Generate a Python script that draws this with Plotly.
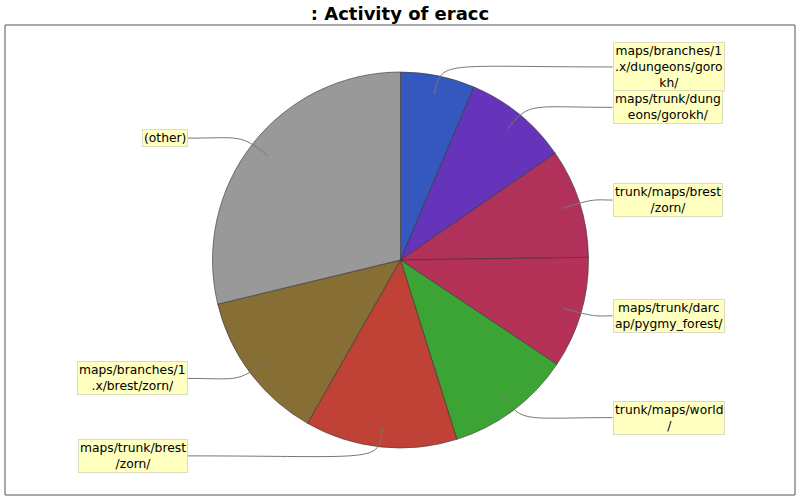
import math
import plotly.graph_objects as go

# slices, clockwise from 12 o'clock
modules = [
    "maps/branches/1.x/dungeons/gorokh/",
    "maps/trunk/dungeons/gorokh/",
    "trunk/maps/brest/zorn/",
    "maps/trunk/darcap/pygmy_forest/",
    "trunk/maps/world/",
    "maps/trunk/brest/zorn/",
    "maps/branches/1.x/brest/zorn/",
    "(other)",
]
changes = [64, 90, 94, 96, 108, 131, 130, 288]
colors = ["#3458BE", "#6633BB", "#B0325A", "#B43158", "#3CA335", "#C04135", "#866E35", "#999999"]

W, H = 800, 500
cx, cy, r = 400.5, 260.0, 188.0

# rough DejaVu Sans advance widths at 12px, for breaking the label text
char_w = {"m": 11.7, "w": 9.8, "a": 7.35, "e": 7.4, "o": 7.3, "x": 7.1, "y": 7.1,
          "k": 6.95, "c": 6.6, "z": 6.3, "s": 6.25, "_": 6.0, "r": 4.9, "t": 4.7,
          "f": 4.2, "/": 4.04, ".": 3.8, "l": 3.3, "i": 3.3, "(": 4.7, ")": 4.7}


def wrap(s, limit=106):
    lines, cur, w = [], "", 0.0
    for ch in s:
        cw = char_w.get(ch, 7.6)
        if cur and w + cw > limit:
            lines.append(cur)
            cur, w = "", 0.0
        cur += ch
        w += cw
    lines.append(cur)
    return "<br>".join(lines)


def px(x):
    return x / W


def py(y):
    return 1 - y / H


fig = go.Figure(go.Pie(
    labels=modules,
    values=changes,
    sort=False,
    direction="clockwise",
    rotation=0,
    marker=dict(colors=colors, line=dict(color="#333333", width=0.6)),
    textinfo="none",
    hoverinfo="label+value+percent",
    showlegend=False,
    domain=dict(x=[px(cx - r), px(cx + r)], y=[py(cy + r), py(cy - r)]),
))

total = sum(changes)
shapes = []
annotations = []
acc = 0.0
for name, v in zip(modules, changes):
    mid = (acc + v / 2) / total * 2 * math.pi
    acc += v
    s, c = math.sin(mid), math.cos(mid)
    right = s >= 0
    lx, ly = cx + 0.9 * r * s, cy - 0.9 * r * c
    ex, ey = cx + 1.09 * r * s, cy - 1.09 * r * c
    ty = cy - 197 * c
    tx = cx + 212 if right else cx - 213
    path = "M %f,%f C %f,%f %f,%f %f,%f" % (
        px(lx), py(ly), px(ex), py(ey), px(ex), py(ty), px(tx), py(ty))
    shapes.append(dict(type="path", path=path, xref="paper", yref="paper",
                       line=dict(color="#777777", width=1), layer="above"))
    annotations.append(dict(
        text=wrap(name), x=px(tx), y=py(ty), xref="paper", yref="paper",
        xanchor="left" if right else "right", yanchor="middle",
        showarrow=False, align="center",
        font=dict(family="DejaVu Sans", size=12.3, color="#000000"),
        bgcolor="#FFFFC0", bordercolor="#DCDCC0", borderwidth=1, borderpad=1,
    ))

# plot frame
shapes.append(dict(type="rect", xref="paper", yref="paper",
                   x0=px(5), x1=px(795), y0=py(495), y1=py(25),
                   line=dict(color="#555555", width=1), layer="below"))

fig.update_layout(
    width=W, height=H,
    margin=dict(l=0, r=0, t=0, b=0),
    paper_bgcolor="white",
    plot_bgcolor="white",
    title=dict(text="<b>: Activity of eracc</b>", x=0.5, xanchor="center",
               y=py(14), yanchor="middle", yref="paper",
               font=dict(family="DejaVu Sans", size=18, color="#000000")),
    shapes=shapes,
    annotations=annotations,
)

fig.write_html("out.html", config={"displayModeBar": False},
               post_script="document.body.style.margin='0';")
